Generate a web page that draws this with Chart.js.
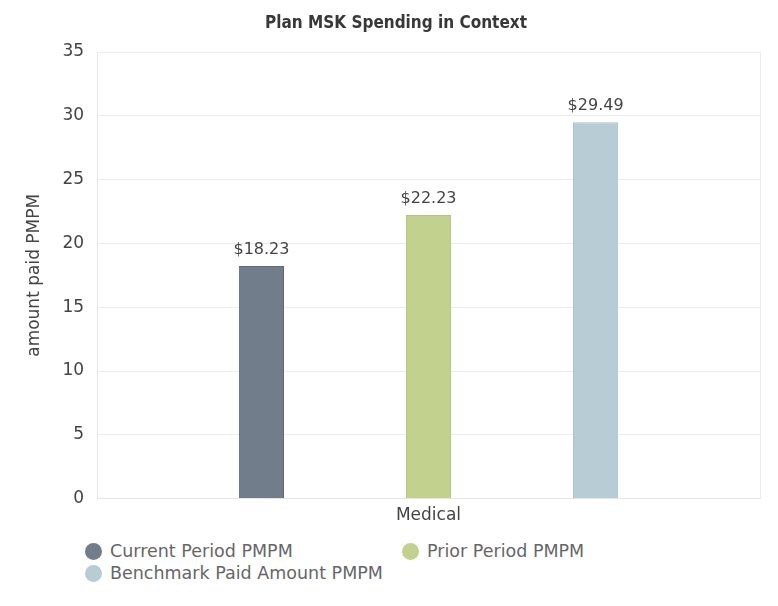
<!DOCTYPE html>
<html>
<head>
<meta charset="utf-8">
<script src="https://cdn.jsdelivr.net/npm/chart.js@4/dist/chart.umd.min.js"></script>
<style>
  html, body { margin: 0; padding: 0; background: #fff; }
  #wrap { position: relative; width: 778px; height: 533px; }
  #legend { position: absolute; left: 85px; top: 540px; font-family: "DejaVu Sans", sans-serif; font-size: 17.5px; color: #666; display: grid; grid-template-columns: 317px auto; row-gap: 0px; }
  .item { display: flex; align-items: center; height: 22px; white-space: nowrap; }
  .dot { width: 17px; height: 17px; border-radius: 50%; margin-right: 8px; flex: none; }
</style>
</head>
<body>
<div id="wrap"><canvas id="c" width="778" height="533"></canvas></div>
<div id="legend"></div>
<script>
const categories = ["Medical"];
const seriesNames = ["Current Period PMPM", "Prior Period PMPM", "Benchmark Paid Amount PMPM"];
const currentPeriod = [18.23];
const priorPeriod = [22.23];
const benchmark = [29.49];
const yTicks = [0, 5, 10, 15, 20, 25, 30, 35];
const chartTitle = 'Plan MSK Spending in Context';

const fills = ["#717d8b", "#c3d18f", "#b8ccd6"];
const borders = ["#5e6a78", "#b3c27c", "#a9bfca"];
const seriesValues = [currentPeriod, priorPeriod, benchmark];

const labelPlugin = {
  id: 'valueLabels',
  afterDatasetsDraw(chart) {
    const ctx = chart.ctx;
    ctx.save();
    ctx.font = '16px "DejaVu Sans", sans-serif';
    ctx.fillStyle = '#444';
    ctx.textAlign = 'center';
    ctx.textBaseline = 'bottom';
    chart.data.datasets.forEach((ds, i) => {
      chart.getDatasetMeta(i).data.forEach((bar, j) => {
        ctx.fillText('$' + ds.data[j].toFixed(2), bar.x, bar.y - 8);
      });
    });
    ctx.restore();
  }
};

const titlePlugin = {
  id: 'centeredTitle',
  afterDraw(chart) {
    const ctx = chart.ctx;
    ctx.save();
    ctx.font = 'bold 17px "DejaVu Sans Condensed", "DejaVu Sans", sans-serif';
    ctx.fillStyle = '#383838';
    ctx.textAlign = 'center';
    ctx.textBaseline = 'middle';
    ctx.fillText(chartTitle, 396, 24);
    ctx.restore();
  }
};

new Chart(document.getElementById('c'), {
  type: 'bar',
  data: {
    labels: categories,
    datasets: seriesNames.map((n, i) => ({
      label: n,
      data: seriesValues[i],
      backgroundColor: fills[i],
      borderColor: borders[i],
      borderWidth: 1,
      categoryPercentage: 0.756,
      barPercentage: 0.27
    }))
  },
  options: {
    responsive: false,
    animation: false,
    layout: { padding: { left: 20, right: 18, top: 52, bottom: 0 } },
    plugins: {
      legend: { display: false },
      tooltip: { enabled: false },
      title: { display: false }
    },
    scales: {
      x: {
        grid: { color: '#ececec', lineWidth: 1, drawTicks: false },
        border: { color: '#e6e6e6' },
        ticks: { font: { family: '"DejaVu Sans", sans-serif', size: 17 }, color: '#444', padding: 7 }
      },
      y: {
        min: 0, max: 35,
        afterBuildTicks(axis) { axis.ticks = yTicks.map(v => ({ value: v })); },
        grid: { color: '#ececec', lineWidth: 1, drawTicks: false },
        border: { color: '#e6e6e6' },
        ticks: { font: { family: '"DejaVu Sans", sans-serif', size: 17 }, color: '#444', padding: 13 },
        title: { display: true, text: 'amount paid PMPM', font: { family: '"DejaVu Sans", sans-serif', size: 17 }, color: '#444', padding: { bottom: 5 } }
      }
    }
  },
  plugins: [labelPlugin, titlePlugin]
});

const legend = document.getElementById('legend');
seriesNames.forEach((n, i) => {
  const d = document.createElement('div');
  d.className = 'item';
  const dot = document.createElement('span');
  dot.className = 'dot';
  dot.style.background = fills[i];
  d.appendChild(dot);
  d.appendChild(document.createTextNode(n));
  legend.appendChild(d);
});
</script>
</body>
</html>
